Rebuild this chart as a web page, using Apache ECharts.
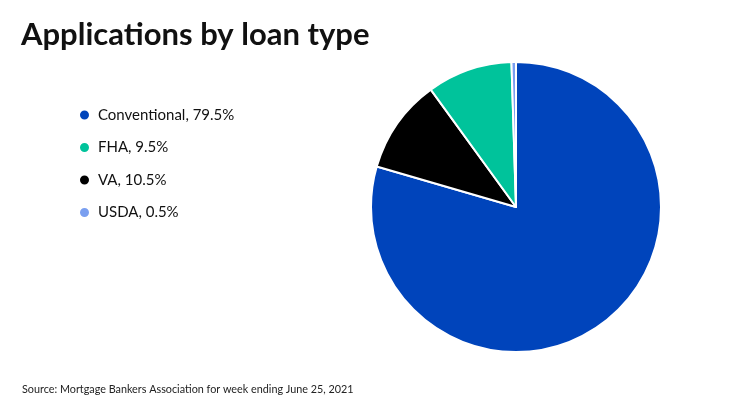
<!DOCTYPE html>
<html>
<head>
<meta charset="utf-8">
<script src="https://cdn.jsdelivr.net/npm/echarts@6/dist/echarts.min.js"></script>
<style>
  html, body { margin: 0; padding: 0; background: #fff; }
  #chart { width: 740px; height: 416px; }
</style>
</head>
<body>
<div id="chart"></div>
<script>
// slice order clockwise from 12 o'clock
var loanTypes = ['Conventional', 'VA', 'FHA', 'USDA'];
var shares = [79.5, 10.5, 9.5, 0.5];
var sliceColors = ['#0044bb', '#000000', '#00c39b', '#7a9ff0'];
// legend lists them in a different order
var legendOrder = ['Conventional', 'FHA', 'VA', 'USDA'];

var chart = echarts.init(document.getElementById('chart'));

var pieData = loanTypes.map(function (name, i) {
  return { name: name, value: shares[i], itemStyle: { color: sliceColors[i] } };
});

var option = {
  backgroundColor: '#ffffff',
  animation: false,
  title: [
    {
      text: 'Applications by loan type',
      left: 16,
      top: 14,
      textStyle: { fontFamily: 'Lato', fontWeight: 'bold', fontSize: 31, color: '#111' }
    },
    {
      text: 'Source: Mortgage Bankers Association for week ending June 25, 2021',
      left: 17,
      top: 379,
      textStyle: { fontFamily: 'Lato', fontWeight: 'normal', fontSize: 10.8, color: '#222' }
    }
  ],
  legend: {
    orient: 'vertical',
    left: 73,
    top: 101,
    itemGap: 14.5,
    icon: 'circle',
    itemWidth: 11,
    itemHeight: 11,
    data: legendOrder,
    formatter: function (name) {
      return name + ', ' + shares[loanTypes.indexOf(name)] + '%';
    },
    textStyle: { fontFamily: 'Lato', fontSize: 15, lineHeight: 18, color: '#111', padding: [0, 0, 0, 3] }
  },
  series: [
    {
      type: 'pie',
      center: [516, 207],
      radius: 145,
      startAngle: 90,
      clockwise: true,
      label: { show: false },
      labelLine: { show: false },
      itemStyle: { borderColor: '#ffffff', borderWidth: 2 },
      emphasis: { disabled: true },
      data: pieData
    }
  ]
};

chart.setOption(option);
</script>
</body>
</html>
